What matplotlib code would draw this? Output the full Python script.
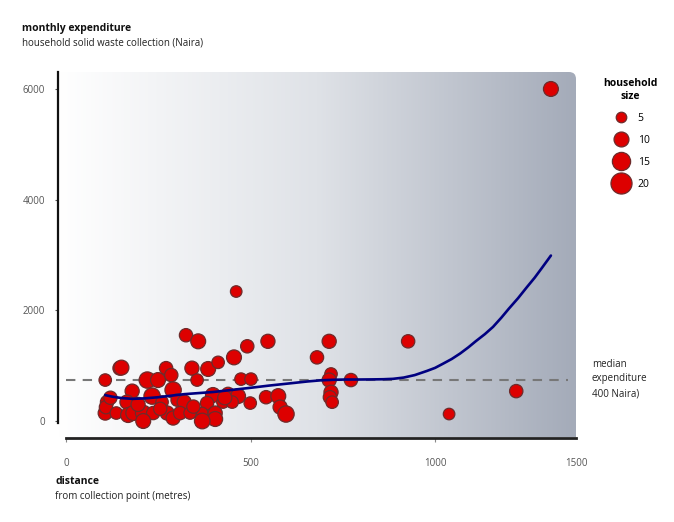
import numpy as np
import matplotlib
matplotlib.use("Agg")
import matplotlib.pyplot as plt
from matplotlib.path import Path
from matplotlib.patches import PathPatch
from matplotlib.lines import Line2D
from matplotlib.colors import LinearSegmentedColormap

plt.rcParams['font.family'] = ['Open Sans', 'DejaVu Sans']

# ---- data ----
distance = [106, 146, 150, 220, 249, 271, 285, 341, 355, 385, 325, 358, 491, 547, 455, 412,
            461, 474, 501, 179, 233, 290, 398, 439, 466, 542, 575, 499, 111, 165, 260, 301,
            320, 382, 425, 450, 580, 106, 108, 136, 168, 182, 209, 236, 274, 290, 309, 336,
            369, 404, 404, 369, 209, 596, 713, 680, 718, 713, 772, 718, 715, 721, 927, 1038,
            1220, 1314, 195, 255, 345, 430, 120]
expenditure = [740, 955, 965, 740, 740, 955, 830, 955, 740, 940, 1550, 1440, 1350, 1440, 1150, 1060,
               2340, 757, 757, 540, 450, 560, 470, 490, 450, 430, 450, 324, 342, 342, 342, 378,
               342, 324, 342, 342, 252, 144, 250, 144, 108, 144, 144, 144, 144, 54, 144, 144,
               144, 144, 36, 0, 0, 126, 1440, 1150, 850, 740, 740, 520, 430, 340, 1440, 126,
               540, 6000, 300, 220, 260, 420, 420]
household = [7, 9, 10, 12, 10, 8, 8, 9, 7, 10, 8, 10, 8, 9, 10, 7,
             6, 7, 7, 9, 12, 12, 10, 8, 10, 8, 10, 7, 8, 9, 7, 7,
             9, 8, 7, 7, 9, 9, 8, 7, 10, 10, 11, 8, 9, 9, 8, 7,
             6, 9, 10, 11, 10, 12, 9, 8, 7, 9, 8, 9, 8, 7, 8, 6,
             8, 10, 9, 8, 8, 9, 8]

trend_x = [106, 125, 150, 180, 215, 250, 285, 320, 360, 400, 440, 480, 515, 550, 585,
           620, 655, 690, 725, 760, 795, 830, 860, 886, 915, 945, 978, 1000, 1020, 1045,
           1068, 1090, 1110, 1135, 1157, 1180, 1200, 1225, 1249, 1270, 1290, 1314]
trend_y = [468, 440, 415, 400, 410, 430, 458, 485, 505, 525, 555, 585, 612, 640, 665,
           690, 715, 735, 745, 750, 750, 752, 755, 762, 785, 830, 905, 960, 1030, 1120,
           1220, 1330, 1440, 1570, 1700, 1870, 2030, 2220, 2420, 2590, 2770, 2990]

median_value = 750
legend_sizes = [5, 10, 15, 20]
x_ticks = [0, 500, 1000]
x_tick_labels = ['0', '500', '1000', '1500']
y_ticks = [0, 2000, 4000, 6000]

SIZE_K = 11.5
RED = '#dd0000'
EDGE = '#6e2b2b'

fig = plt.figure(figsize=(6.74, 5.22), dpi=100)
ax = fig.add_axes([58/674, 1-437/522, (576-58)/674, (437-72)/522])
ax.set_xlim(-22, 1382)
ax.set_ylim(-289, 6307)

# gradient background with rounded top-right corner
grad = np.linspace(0, 1, 256).reshape(1, -1)
cmap = LinearSegmentedColormap.from_list('bg', ['#ffffff', '#dfe2e7', '#a4abb9'])
im = ax.imshow(grad, cmap=cmap, aspect='auto', extent=(0, 1, 0, 1),
               transform=ax.transAxes, zorder=0, interpolation='bilinear')
rx, ry = 7/518, 7/365
verts = [(0, 0), (1, 0), (1, 1-ry), (1, 1), (1-rx, 1), (0, 1), (0, 0)]
codes = [Path.MOVETO, Path.LINETO, Path.LINETO, Path.CURVE3, Path.CURVE3, Path.LINETO, Path.CLOSEPOLY]
clip = PathPatch(Path(verts, codes), transform=ax.transAxes, facecolor='none', edgecolor='none')
ax.add_patch(clip)
im.set_clip_path(clip)

# median line
ax.axhline(median_value, xmin=22/1404, xmax=0.985, color='#777777', lw=1.5,
           dashes=(4.5, 3.5), zorder=1)

# scatter
ax.scatter(distance, expenditure, s=[SIZE_K*h for h in household], color=RED,
           edgecolors=EDGE, linewidths=0.9, zorder=3)

# trend
ax.plot(trend_x, trend_y, color='#000080', lw=1.9, zorder=4,
        solid_capstyle='round', solid_joinstyle='round')

# spines
for s in ['top', 'right']:
    ax.spines[s].set_visible(False)
ax.spines['left'].set_bounds(-36, 6307)
ax.spines['left'].set_linewidth(1.6)
ax.spines['left'].set_color('#111111')
ax.spines['bottom'].set_position(('outward', 1))
ax.spines['bottom'].set_bounds(0, 1382)
ax.spines['bottom'].set_linewidth(2.0)
ax.spines['bottom'].set_color('#222222')

ax.set_xticks(x_ticks + [1382])
ax.set_xticklabels(x_tick_labels)
ax.set_yticks(y_ticks)
ax.set_yticklabels([str(v) for v in y_ticks])
ax.tick_params(axis='x', length=3, width=0.8, color='#888888', labelsize=7,
               labelcolor='#555555', pad=11)
ax.tick_params(axis='y', length=2.5, width=0.8, color='#555555', labelsize=7,
               labelcolor='#555555', pad=7)
ax.get_xticklines()[-2].set_visible(False)

# titles
fig.text(22/674, 1-29/522, 'monthly expenditure', fontsize=7.5, fontweight='bold',
         va='center', ha='left', color='#111111')
fig.text(22/674, 1-43/522, 'household solid waste collection (Naira)', fontsize=7,
         va='center', ha='left', color='#222222')
fig.text(55/674, 1-482/522, 'distance', fontsize=7.5, fontweight='bold',
         va='center', ha='left', color='#111111')
fig.text(55/674, 1-496/522, 'from collection point (metres)', fontsize=7,
         va='center', ha='left', color='#222222')
fig.text(592/674, 1-379/522, 'median\nexpenditure\n400 Naira)', fontsize=7,
         va='center', ha='left', color='#222222', linespacing=1.45)

# legend
handles = [Line2D([], [], ls='', marker='o', markersize=np.sqrt(SIZE_K*v),
                  markerfacecolor=RED, markeredgecolor=EDGE, markeredgewidth=0.9)
           for v in legend_sizes]
leg = fig.legend(handles, [str(v) for v in legend_sizes], title='household\nsize',
                 loc='upper center', bbox_to_anchor=(630/674, 1-71/522), frameon=False,
                 fontsize=7.5, title_fontsize=7.5, labelspacing=1.05, handletextpad=0.6,
                 borderpad=0.2)
leg.get_title().set_fontweight('bold')
leg.get_title().set_multialignment('center')

fig.savefig('out.png', dpi=100)
